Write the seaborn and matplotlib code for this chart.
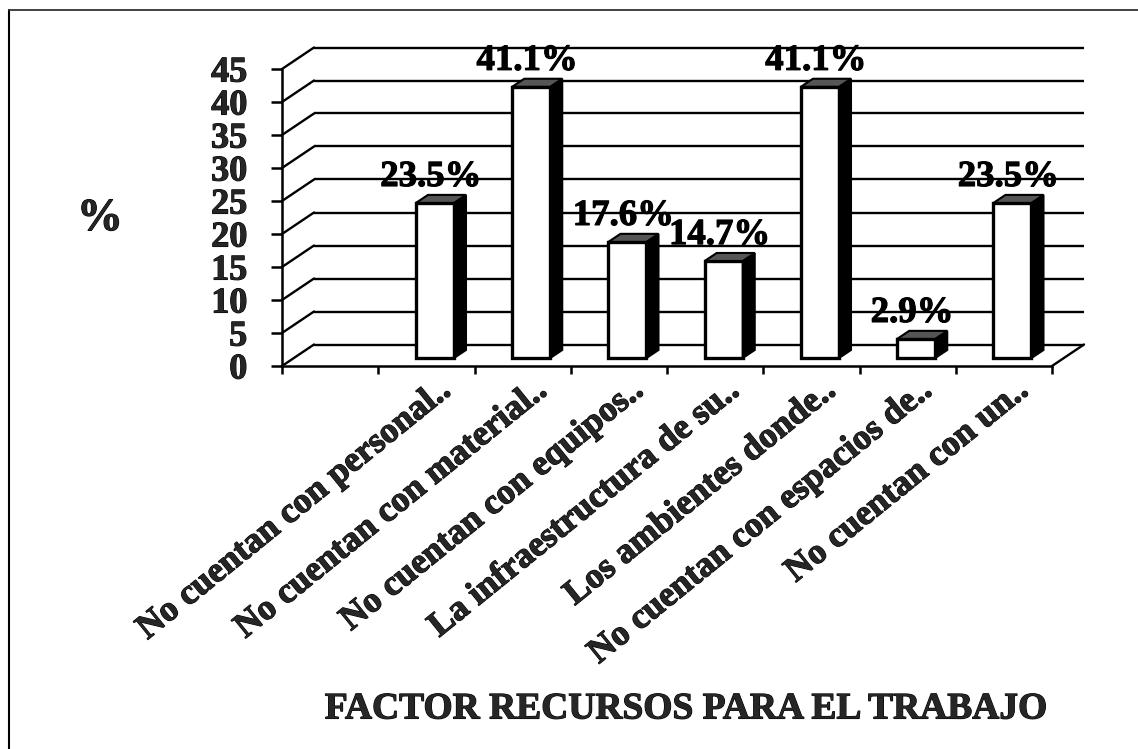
import matplotlib
matplotlib.use('Agg')
import matplotlib.pyplot as plt
import matplotlib.patheffects as pe
from matplotlib.lines import Line2D
import seaborn as sns

categorias = ['No cuentan con personal..', 'No cuentan con material..',
              'No cuentan con equipos..', 'La infraestructura de su..',
              'Los ambientes donde..', 'No cuentan con espacios de..',
              'No cuentan con un..']
valores = [23.5, 41.1, 17.6, 14.7, 41.1, 2.9, 23.5]
etiquetas = ['23.5%', '41.1%', '17.6%', '14.7%', '41.1%', '2.9%', '23.5%']
yticks = [0, 5, 10, 15, 20, 25, 30, 35, 40, 45]
titulo_x = 'FACTOR RECURSOS PARA EL TRABAJO'

W, H = 1138, 749
sns.set_style('white')
plt.rcParams['font.family'] = ['Liberation Serif', 'DejaVu Serif']
plt.rcParams['font.weight'] = 'bold'

fig = plt.figure(figsize=(W/100, H/100), dpi=100)
ax = fig.add_axes([282/W, 1-366/H, 770/W, 297/H])
ax.patch.set_alpha(0)

# the first slot of the axis is empty in the original
orden = [''] + categorias
sns.barplot(x=categorias, y=valores, order=orden, color='white', saturation=1,
            edgecolor='black', linewidth=2.4, width=0.395, zorder=3, ax=ax)
ax.set_xlim(-0.5, 7.5)
ax.set_ylim(0, 45)

# px to data units
px_x = 8 / 770
px_y = 45 / 297
wall_dx, wall_dy = 32*px_x, 21.5*px_y
bar_dx, bar_dy = 8.6*px_x, 8*px_y
prof_dx, prof_dy = 12*px_x, 8*px_y

# back wall
grosor = 1.7
x0, x1 = -0.5, 7.5
for v in yticks:
    ax.plot([x0+wall_dx, x1+wall_dx], [v+wall_dy, v+wall_dy], color='black',
            lw=grosor, clip_on=False, zorder=1, solid_capstyle='butt')
    ax.plot([x0, x0+wall_dx], [v, v+wall_dy], color='black', lw=grosor,
            clip_on=False, zorder=1)
ax.plot([x1, x1+wall_dx], [0, wall_dy], color='black', lw=grosor, clip_on=False, zorder=1)

# shift bars onto the floor, add side and top faces
texto = [pe.withStroke(linewidth=0.8, foreground='black')]
for p, lab in zip(ax.containers[0], etiquetas):
    p.set_x(p.get_x() + bar_dx)
    p.set_y(p.get_y() + bar_dy)
    l, r = p.get_x(), p.get_x() + p.get_width()
    b, t = p.get_y(), p.get_y() + p.get_height()
    ax.fill([r, r+prof_dx, r+prof_dx, r], [b, b+prof_dy, t+prof_dy, t], facecolor='black',
            edgecolor='black', lw=1.5, zorder=3, clip_on=False)
    ax.fill([l, l+prof_dx, r+prof_dx, r], [t, t+prof_dy, t+prof_dy, t], facecolor='#555555',
            edgecolor='black', lw=1.5, zorder=3, clip_on=False)
    ax.annotate(lab, xy=((l+r)/2, t), xytext=(-3, 19), textcoords='offset points',
                ha='center', va='center', fontsize=26.5, fontweight='bold',
                color='black', zorder=5, annotation_clip=False, path_effects=texto)

sns.despine(ax=ax, top=True, right=True)
for lado in ['left', 'bottom']:
    ax.spines[lado].set_linewidth(1.8)
    ax.spines[lado].set_color('black')
    ax.spines[lado].set_zorder(2)

ax.set_yticks(yticks)
ax.set_yticklabels([str(v) for v in yticks], fontsize=26, fontweight='bold', path_effects=texto)
ax.tick_params(axis='y', length=8, width=1.8, pad=17, color='black', left=True)

# ticks at slot edges, labels at slot centres
ax.set_xticks([i-0.5 for i in range(9)])
ax.set_xticklabels([])
ax.tick_params(axis='x', which='major', length=6, width=1.8, color='black', bottom=True)
ax.set_xticks([i+0.21 for i in range(1, 8)], categorias, minor=True)
ax.tick_params(axis='x', which='minor', length=0, pad=15)
for t in ax.get_xticklabels(minor=True):
    t.set_rotation(39)
    t.set_rotation_mode('anchor')
    t.set_ha('right')
    t.set_va('center')
    t.set_fontsize(25.6)
    t.set_fontweight('bold')
    t.set_path_effects(texto)

ax.set_xlabel('')
ax.set_ylabel('')
fig.text(100/W, 1-219/H, '%', fontsize=33, fontweight='bold', ha='center', va='center',
         path_effects=texto)
fig.text(686/W, 1-709/H, titulo_x, fontsize=27, fontweight='bold', ha='center', va='center',
         path_effects=texto)

# scan frame: only left and top edges stay in the crop
fig.add_artist(Line2D([9/W, 9/W], [0, 1-10/H], color='black', lw=1.5))
fig.add_artist(Line2D([9/W, 1], [1-10/H, 1-10/H], color='#333333', lw=1.3))

fig.savefig('out.png', dpi=100)
